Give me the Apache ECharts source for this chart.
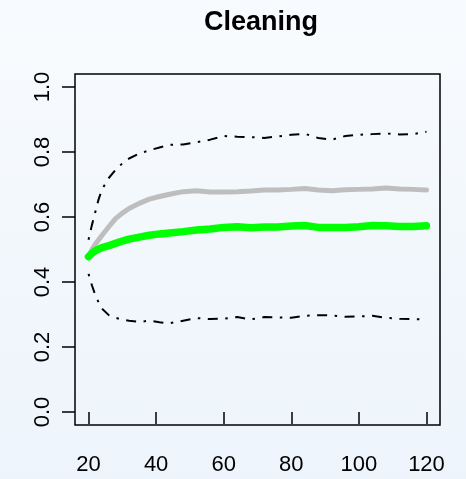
<!DOCTYPE html>
<html>
<head>
<meta charset="utf-8">
<script src="https://cdn.jsdelivr.net/npm/echarts@6/dist/echarts.min.js"></script>
<style>
  html, body { margin: 0; padding: 0; }
  #chart { width: 466px; height: 479px; }
</style>
</head>
<body>
<div id="chart"></div>
<script>
// Sample sizes along the x axis
const sizes = [20, 21, 22, 23, 24, 26, 28, 30, 32, 35, 38, 41, 44, 48, 52, 56, 60, 64, 68, 72, 76, 80, 84, 88, 92, 96, 100, 104, 108, 112, 116, 120];

// Upper and lower envelope (dot-dash lines)
const upperBand = [0.53, 0.575, 0.615, 0.655, 0.685, 0.72, 0.745, 0.765, 0.78, 0.795, 0.805, 0.814, 0.822, 0.823, 0.830, 0.838, 0.849, 0.847, 0.846, 0.843, 0.848, 0.853, 0.856, 0.843, 0.838, 0.849, 0.853, 0.855, 0.857, 0.854, 0.855, 0.862];
const lowerBand = [0.425, 0.39, 0.36, 0.337, 0.318, 0.298, 0.29, 0.284, 0.281, 0.277, 0.281, 0.276, 0.273, 0.281, 0.289, 0.286, 0.287, 0.292, 0.285, 0.292, 0.291, 0.290, 0.296, 0.298, 0.297, 0.293, 0.294, 0.296, 0.290, 0.287, 0.286, 0.285];

// Grey curve
const greyCurve = [0.478, 0.500, 0.516, 0.530, 0.544, 0.570, 0.595, 0.612, 0.626, 0.642, 0.655, 0.663, 0.670, 0.678, 0.681, 0.677, 0.677, 0.678, 0.680, 0.683, 0.683, 0.685, 0.688, 0.683, 0.681, 0.684, 0.685, 0.686, 0.689, 0.686, 0.685, 0.683];

// Green curve
const greenCurve = [0.478, 0.488, 0.496, 0.501, 0.506, 0.512, 0.519, 0.526, 0.532, 0.538, 0.544, 0.548, 0.551, 0.555, 0.560, 0.563, 0.568, 0.570, 0.567, 0.569, 0.569, 0.572, 0.574, 0.568, 0.568, 0.568, 0.570, 0.574, 0.573, 0.571, 0.571, 0.573];

// Tick positions
const xTicks = [20, 40, 60, 80, 100, 120];
const yTicks = [0, 0.2, 0.4, 0.6, 0.8, 1.0];

const titleText = 'Cleaning';

const pairs = (ys) => sizes.map((x, i) => [x, ys[i]]);
const FONT = "'Liberation Sans', Arial, Helvetica, sans-serif";

const chart = echarts.init(document.getElementById('chart'), null, { renderer: 'canvas' });

const dotDash = [2.5, 7.5, 10, 7.5];

chart.setOption({
  animation: false,
  backgroundColor: new echarts.graphic.LinearGradient(0, 0, 0, 1, [
    { offset: 0, color: '#f8fbfe' },
    { offset: 1, color: '#edf4fb' }
  ]),
  title: {
    text: titleText,
    left: 256,
    textAlign: 'center',
    top: 4,
    textStyle: { fontFamily: FONT, fontSize: 27, fontWeight: 'bold', color: '#000' }
  },
  grid: {
    left: 75, right: 26, top: 74, bottom: 54,
    show: true,
    borderColor: '#000',
    borderWidth: 1.5,
    backgroundColor: 'transparent'
  },
  xAxis: {
    type: 'value',
    min: 16, max: 124,
    splitLine: { show: false },
    axisLine: { show: false },
    axisTick: { show: true, inside: false, length: 12, customValues: xTicks, lineStyle: { color: '#000', width: 1.5 } },
    axisLabel: { customValues: xTicks, margin: 29, fontFamily: FONT, fontSize: 22, color: '#000' }
  },
  yAxis: {
    type: 'value',
    min: -0.04, max: 1.04,
    splitLine: { show: false },
    axisLine: { show: false },
    axisTick: { show: true, inside: false, length: 13, customValues: yTicks, lineStyle: { color: '#000', width: 1.5 } },
    axisLabel: {
      customValues: yTicks,
      rotate: 90,
      margin: 21,
      fontFamily: FONT, fontSize: 22, color: '#000',
      formatter: (v) => v.toFixed(1)
    }
  },
  series: [
    {
      type: 'line', data: pairs(greyCurve), showSymbol: false, symbol: 'none',
      lineStyle: { color: '#bebebe', width: 5, cap: 'round', join: 'round' }, z: 2
    },
    {
      type: 'line', data: pairs(greenCurve), showSymbol: false, symbol: 'none',
      lineStyle: { color: '#00ff00', width: 7.5, cap: 'round', join: 'round' }, z: 3
    },
    {
      type: 'line', data: pairs(upperBand), showSymbol: false, symbol: 'none',
      lineStyle: { color: '#000', width: 2, type: dotDash }, z: 4
    },
    {
      type: 'line', data: pairs(lowerBand), showSymbol: false, symbol: 'none',
      lineStyle: { color: '#000', width: 2, type: dotDash }, z: 4
    }
  ]
});
</script>
</body>
</html>
